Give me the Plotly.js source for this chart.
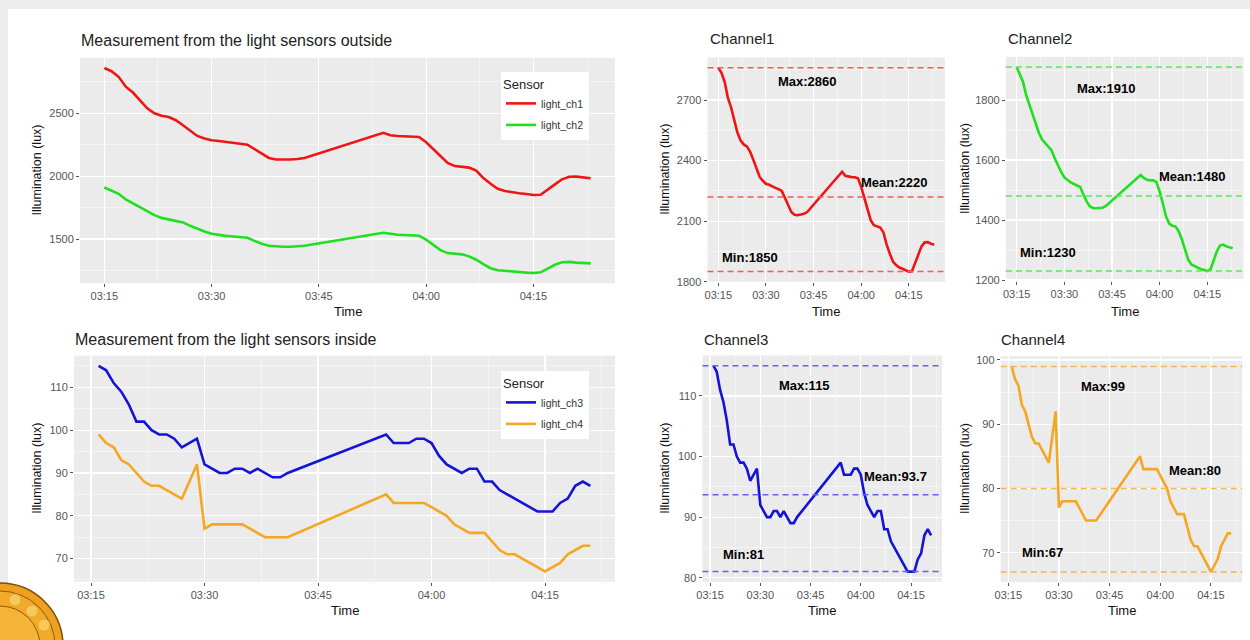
<!DOCTYPE html>
<html>
<head>
<meta charset="utf-8">
<script src="https://cdn.plot.ly/plotly-3.0.1.min.js"></script>
<style>
html,body{margin:0;padding:0;background:#fff;}
#chart{width:1250px;height:640px;}
</style>
</head>
<body>
<div id="chart"></div>
<script>
// ---------------- DATA ----------------
const DAY = '2020-01-01 ';

const outsideTimes = ['03:15','03:16','03:17','03:18','03:19','03:20','03:21','03:22','03:23','03:24',
  '03:25','03:26','03:27','03:28','03:29','03:30','03:31','03:32','03:33','03:34',
  '03:35','03:36','03:37','03:38','03:39','03:40','03:41','03:42','03:43',
  '03:54','03:55','03:56','03:57','03:58','03:59','04:00','04:01','04:02','04:03',
  '04:04','04:05','04:06','04:07','04:08','04:09','04:10','04:11','04:12','04:13',
  '04:14','04:15','04:16','04:17','04:18','04:19','04:20','04:21','04:22','04:23'];

const light_ch1 = [2860,2835,2790,2712,2665,2600,2540,2500,2480,2470,
  2445,2405,2360,2320,2300,2285,2280,2274,2265,2258,
  2250,2215,2175,2145,2132,2130,2133,2137,2145,
  2345,2325,2320,2318,2317,2312,2270,2215,2160,2105,
  2080,2075,2068,2045,1985,1940,1900,1882,1870,1864,
  1858,1850,1852,1890,1935,1975,1995,1996,1988,1983];

const light_ch2 = [1910,1885,1860,1815,1785,1755,1720,1690,1668,1655,
  1645,1632,1605,1580,1560,1542,1532,1525,1520,1516,
  1510,1485,1462,1446,1440,1439,1439,1441,1446,
  1550,1540,1534,1532,1532,1526,1495,1455,1412,1388,
  1381,1378,1362,1335,1300,1268,1252,1246,1240,1236,
  1233,1230,1235,1265,1295,1315,1318,1312,1308,1306];

const insideTimes = ['03:16','03:17','03:18','03:19','03:20','03:21','03:22','03:23','03:24','03:25',
  '03:26','03:27',
  '03:29','03:30','03:31','03:32','03:33','03:34','03:35','03:36','03:37','03:38',
  '03:39','03:40','03:41',
  '03:54','03:55','03:56','03:57','03:58','03:59','04:00','04:01','04:02','04:03',
  '04:04','04:05','04:06','04:07','04:08','04:09','04:10','04:11','04:12','04:13',
  '04:14','04:15','04:16','04:17','04:18','04:19','04:20','04:21'];

const light_ch3 = [115,114,111,109,106,102,102,100,99,99,
  98,96,
  98,92,91,90,90,91,91,90,91,90,
  89,89,90,
  99,97,97,97,98,98,97,94,92,91,
  90,91,91,88,88,86,85,84,83,82,
  81,81,81,83,84,87,88,87];

const light_ch4 = [99,97,96,93,92,90,88,87,87,86,
  85,84,
  92,77,78,78,78,78,78,77,76,75,
  75,75,75,
  85,83,83,83,83,83,82,81,80,78,
  77,76,76,76,74,72,71,71,70,69,
  68,67,68,69,71,72,73,73];

const seriesNames = ['light_ch1','light_ch2','light_ch3','light_ch4'];
const channelTitles = ['Channel1','Channel2','Channel3','Channel4'];
const maxVals  = [2860, 1910, 115, 99];
const meanVals = [2220, 1480, 93.7, 80];
const minVals  = [1850, 1230, 81, 67];
const xTickLabels = ['03:15','03:30','03:45','04:00','04:15'];

// ---------------- STYLE / LAYOUT ----------------
const W = 1250, H = 640;
const FONT = 'Liberation Sans, Arial, Helvetica, sans-serif';
const colors = ['#ee1515', '#1fe01f', '#1414d6', '#f5a623'];
const hlineColors = ['#f35a5a', '#5ee65e', '#6262ea', '#f4b650'];

const px = v => v / W;
const py = v => 1 - v / H;
const xdom = (a, b) => [a / W, b / W];
const ydom = (top, bottom) => [1 - bottom / H, 1 - top / H];

const toX = arr => arr.map(t => DAY + t);
const outX = toX(outsideTimes);
const inX = toX(insideTimes);

const outRange = [DAY + '03:11:36', DAY + '04:26:24'];
const inRange = [DAY + '03:12:45', DAY + '04:24:15'];

function xAxis(domain, range, anchor) {
  return {
    domain: domain, anchor: anchor, type: 'date', range: range,
    tickvals: xTickLabels.map(t => DAY + t), ticktext: xTickLabels,
    showgrid: true, gridcolor: '#ffffff', gridwidth: 1.1,
    zeroline: false, showline: false,
    ticks: 'outside', ticklen: 3, tickcolor: '#555', tickwidth: 1,
    tickfont: {family: FONT, size: 11, color: '#555'},
    minor: {tickvals: ['03:22:30','03:37:30','03:52:30','04:07:30','04:22:30'].map(t => DAY + t),
            showgrid: true, gridcolor: 'rgba(255,255,255,0.75)', gridwidth: 0.6, ticks: ''},
    fixedrange: true
  };
}
function yAxis(domain, range, dtick, anchor) {
  return {
    domain: domain, anchor: anchor, range: range, dtick: dtick, tick0: 0,
    showgrid: true, gridcolor: '#ffffff', gridwidth: 1.1,
    zeroline: false, showline: false,
    ticks: 'outside', ticklen: 3, tickcolor: '#555', tickwidth: 1,
    tickfont: {family: FONT, size: 11, color: '#555'},
    minor: {dtick: dtick / 2, showgrid: true, gridcolor: 'rgba(255,255,255,0.75)', gridwidth: 0.6, ticks: ''},
    fixedrange: true
  };
}

const panels = [
  {xd: xdom(80, 615),      yd: ydom(57.8, 283.2), xr: outRange, yr: [1148.5, 2941.5], dt: 500},
  {xd: xdom(74, 615),      yd: ydom(355.7, 581.7), xr: inRange, yr: [64.6, 117.4], dt: 10},
  {xd: xdom(707.5, 945),   yd: ydom(57.5, 281.8), xr: outRange, yr: [1799.5, 2910.5], dt: 300},
  {xd: xdom(1005.9, 1243.5), yd: ydom(56.8, 281.2), xr: outRange, yr: [1196, 1944], dt: 200},
  {xd: xdom(702.5, 942),   yd: ydom(355.4, 581.9), xr: inRange, yr: [79.3, 116.7], dt: 10},
  {xd: xdom(1000.7, 1242.2), yd: ydom(356.1, 582.2), xr: inRange, yr: [65.4, 100.6], dt: 10}
];

const layout = {
  width: W, height: H,
  margin: {l: 0, r: 0, t: 0, b: 0, pad: 0},
  paper_bgcolor: '#ffffff',
  plot_bgcolor: '#ebebeb',
  font: {family: FONT, color: '#222'},
  showlegend: true,
  annotations: [],
  shapes: []
};

panels.forEach((p, i) => {
  const n = i === 0 ? '' : String(i + 1);
  layout['xaxis' + n] = xAxis(p.xd, p.xr, 'y' + n);
  layout['yaxis' + n] = yAxis(p.yd, p.yr, p.dt, 'x' + n);
});

const lineW = 2.6;
const data = [
  {x: outX, y: light_ch1, xaxis: 'x', yaxis: 'y', name: seriesNames[0], legend: 'legend', legendgroup: 'g1'},
  {x: outX, y: light_ch2, xaxis: 'x', yaxis: 'y', name: seriesNames[1], legend: 'legend', legendgroup: 'g2'},
  {x: inX, y: light_ch3, xaxis: 'x2', yaxis: 'y2', name: seriesNames[2], legend: 'legend2', legendgroup: 'g3'},
  {x: inX, y: light_ch4, xaxis: 'x2', yaxis: 'y2', name: seriesNames[3], legend: 'legend2', legendgroup: 'g4'},
  {x: outX, y: light_ch1, xaxis: 'x3', yaxis: 'y3', name: seriesNames[0], showlegend: false},
  {x: outX, y: light_ch2, xaxis: 'x4', yaxis: 'y4', name: seriesNames[1], showlegend: false},
  {x: inX, y: light_ch3, xaxis: 'x5', yaxis: 'y5', name: seriesNames[2], showlegend: false},
  {x: inX, y: light_ch4, xaxis: 'x6', yaxis: 'y6', name: seriesNames[3], showlegend: false}
].map((t, i) => Object.assign({type: 'scatter', mode: 'lines', hoverinfo: 'skip',
  line: {color: colors[i % 4], width: lineW}}, t));

const legendBase = {
  xanchor: 'left', yanchor: 'top', bgcolor: '#ffffff', borderwidth: 0,
  font: {family: FONT, size: 10.5, color: '#333'},
  title: {text: 'Sensor', font: {family: FONT, size: 13, color: '#222'}},
  itemwidth: 30, tracegroupgap: 2.5, itemclick: false, itemdoubleclick: false
};
layout.legend = Object.assign({}, legendBase, {x: px(501), y: py(72)});
layout.legend2 = Object.assign({}, legendBase, {x: px(501), y: py(371)});

function txt(text, x, y, size, opts) {
  layout.annotations.push(Object.assign({
    text: text, xref: 'paper', yref: 'paper', x: px(x), y: py(y),
    xanchor: 'left', yanchor: 'middle', showarrow: false,
    font: {family: FONT, size: size, color: '#222'}
  }, opts || {}));
}
txt('Measurement from the light sensors outside', 79, 40, 16);
txt('Measurement from the light sensors inside', 73, 339, 16);
txt(channelTitles[0], 708, 39, 15);
txt(channelTitles[1], 1006, 39, 15);
txt(channelTitles[2], 702, 339, 15);
txt(channelTitles[3], 999, 339, 15);

const timeLabelPos = [[348, 311.5], [345, 610], [826, 311], [1124.7, 311], [822, 610], [1121.5, 610]];
const yLabelPos = [[37, 170.5], [37, 468.7], [665, 169.7], [965, 169], [665, 468.7], [965, 469]];
timeLabelPos.forEach(p => txt('Time', p[0], p[1], 13, {xanchor: 'center', font: {family: FONT, size: 13, color: '#111'}}));
yLabelPos.forEach(p => txt('Illumination (lux)', p[0], p[1], 13, {xanchor: 'center', textangle: -90, font: {family: FONT, size: 12.5, color: '#111'}}));

const labelX = {max: DAY + '03:43:10', mean: DAY + '04:10:20', min: DAY + '03:25:00'};
const labelY = {max: [2792, 1839, 111.8, 95.8], mean: [2290, 1544, 96.7, 82.8], min: [1918, 1291, 83.9, 70.05]};
for (let c = 0; c < 4; c++) {
  const n = String(c + 3);
  [maxVals[c], meanVals[c], minVals[c]].forEach(v => {
    layout.shapes.push({type: 'line', xref: 'x' + n + ' domain', yref: 'y' + n,
      x0: 0, x1: 1, y0: v, y1: v, layer: 'above',
      line: {color: hlineColors[c], width: 1.5, dash: '6px,4px'}});
  });
  const sfont = {family: FONT, size: 13, color: '#000', weight: 'bold'};
  [['Max:' + maxVals[c], labelX.max, labelY.max[c]],
   ['Mean:' + meanVals[c], labelX.mean, labelY.mean[c]],
   ['Min:' + minVals[c], labelX.min, labelY.min[c]]].forEach(a => {
    layout.annotations.push({text: a[0], xref: 'x' + n, yref: 'y' + n, x: a[1], y: a[2],
      xanchor: 'center', yanchor: 'middle', showarrow: false, font: sfont});
  });
}

layout.shapes.push({type: 'rect', xref: 'paper', yref: 'paper', x0: 0, x1: 1, y0: py(9), y1: 1,
  fillcolor: '#ededed', line: {width: 0}, layer: 'below'});
layout.shapes.push({type: 'rect', xref: 'paper', yref: 'paper', x0: 0, x1: px(8), y0: 0, y1: 1,
  fillcolor: '#ededed', line: {width: 0}, layer: 'below'});

function circ(cx, cy, r, fill, lc, lw) {
  layout.shapes.push({type: 'circle', xref: 'paper', yref: 'paper',
    x0: px(cx - r), x1: px(cx + r), y0: py(cy + r), y1: py(cy - r),
    fillcolor: fill, line: {color: lc, width: lw}, layer: 'above'});
}
circ(0, 646, 63, '#f0a020', '#7a4e05', 1.5);
circ(0, 646, 55, '#f3aa2a', '#8a5a0a', 1);
circ(0, 646, 40, '#f6b436', '#8a5a0a', 1);
circ(15, 600, 6, '#f7c85a', '#e09a20', 0.5);
circ(32, 611, 6, '#f7c85a', '#e09a20', 0.5);
circ(44, 625, 6, '#f7c85a', '#e09a20', 0.5);

Plotly.newPlot('chart', data, layout, {staticPlot: true, displayModeBar: false});
</script>
</body>
</html>
